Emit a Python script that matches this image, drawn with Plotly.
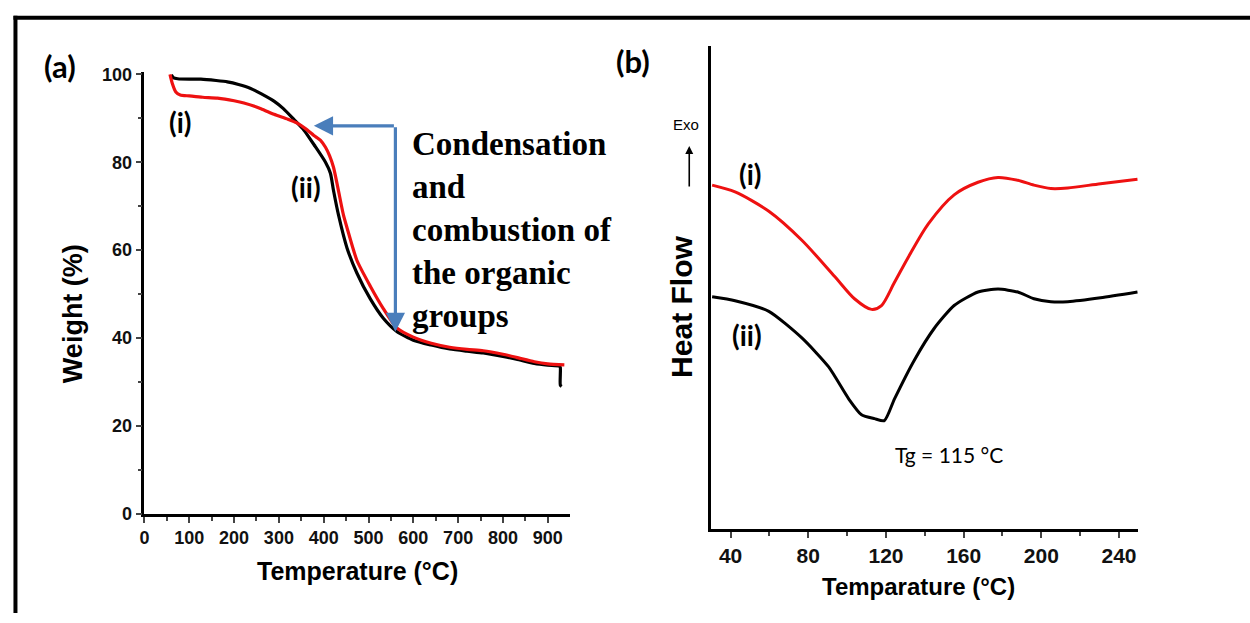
import plotly.graph_objects as go

W, H = 1250, 623

# ---------------- (a) TGA data ----------------
tga_i_temp = [57, 62, 70, 80, 100, 130, 163, 200, 222, 260, 289, 320, 341, 360, 378, 393,
              404, 413, 422, 432, 444, 452, 474, 504, 533, 563, 600, 640, 681, 720, 756,
              800, 830, 870, 900, 937]
tga_i_weight = [100, 98, 96, 95.3, 95.1, 94.8, 94.6, 94.0, 93.5, 92.2, 90.9, 89.8, 88.9,
                87.6, 86.1, 85.0, 83.4, 81.5, 78.8, 74.0, 68.0, 65.1, 57.7, 51.8, 46.7,
                42.3, 40.2, 38.8, 37.9, 37.4, 37.1, 36.3, 35.6, 34.6, 34.1, 33.9]

tga_ii_temp = [60, 65, 74, 100, 126, 160, 185, 210, 237, 260, 289, 310, 333, 356, 381, 404,
               415, 422, 433, 452, 474, 504, 533, 563, 600, 640, 681, 720, 756, 800, 830,
               870, 900, 926, 928, 928, 931]
tga_ii_weight = [99.9, 99.2, 99.0, 98.9, 98.9, 98.6, 98.3, 97.7, 96.8, 95.6, 93.9, 92.2,
                 89.8, 87.3, 83.6, 80.0, 77.5, 73.5, 68.0, 60.5, 54.8, 48.9, 44.5, 41.5,
                 39.5, 38.4, 37.5, 37.0, 36.6, 35.8, 35.2, 34.2, 33.8, 33.6, 33.3, 29.3, 29.0]

# ---------------- (b) DSC data (arbitrary heat-flow units) ----------------
dsc_i_temp = [30.5, 42.3, 59.7, 76.7, 93.6, 103.8, 112.6, 117.7, 124.4, 131.5, 141.8, 155.1,
              167.4, 177.7, 187.9, 196.2, 204.9, 213.6, 230.5, 249.5]
dsc_i = [71.2, 69.8, 65.8, 59.8, 52.3, 47.7, 45.5, 46.3, 51.1, 56.3, 63.2, 69.2, 71.8,
         72.8, 72.2, 71.2, 70.5, 70.6, 71.5, 72.4]

dsc_ii_temp = [30.5, 42.3, 59.7, 76.7, 90.5, 100.8, 107.4, 114.1, 119.2, 124.4, 134.6,
               144.9, 155.1, 167.4, 177.7, 187.9, 196.2, 204.9, 213.6, 230.5, 249.5]
dsc_ii = [48.1, 47.3, 45.1, 39.6, 33.6, 27.0, 23.7, 22.9, 22.5, 27.0, 35.0, 41.6, 46.3,
          49.1, 49.7, 49.1, 47.7, 47.1, 47.1, 47.9, 49.1]

tga_xticks = list(range(0, 1000, 100))
tga_yticks = list(range(0, 101, 20))
dsc_xticks = list(range(40, 241, 40))

RED = "#ee1111"
BLACK = "#000000"
BLUE = "#4a7ebb"


def px(x):
    return x / W


def py(y):
    return 1 - y / H


fig = go.Figure()

fig.add_trace(go.Scatter(x=tga_ii_temp, y=tga_ii_weight, mode="lines",
                         line=dict(color=BLACK, width=3.2, shape="spline", smoothing=0.6),
                         xaxis="x", yaxis="y", showlegend=False))
fig.add_trace(go.Scatter(x=tga_i_temp, y=tga_i_weight, mode="lines",
                         line=dict(color=RED, width=3.2, shape="spline", smoothing=0.6),
                         xaxis="x", yaxis="y", showlegend=False))

fig.add_trace(go.Scatter(x=dsc_i_temp, y=dsc_i, mode="lines",
                         line=dict(color=RED, width=3, shape="spline", smoothing=0.8),
                         xaxis="x2", yaxis="y2", showlegend=False))
fig.add_trace(go.Scatter(x=dsc_ii_temp, y=dsc_ii, mode="lines",
                         line=dict(color=BLACK, width=3, shape="spline", smoothing=0.6),
                         xaxis="x2", yaxis="y2", showlegend=False))

ARIAL = "Liberation Sans, Arial, sans-serif"
tick_font_a = dict(family=ARIAL, size=18, color="#111", weight="bold")
tick_font_b = dict(family="Liberation Sans Narrow, Arial Narrow, Liberation Sans, Arial",
                   size=21, color="#111", weight="bold")

fig.update_layout(
    width=W, height=H,
    margin=dict(l=0, r=0, t=0, b=0),
    paper_bgcolor="white", plot_bgcolor="white",
    xaxis=dict(domain=[px(140), px(567)], range=[0, 949], anchor="y",
               tickvals=tga_xticks, ticks="outside", ticklen=6, tickwidth=2,
               minor=dict(dtick=50, tick0=0, ticks="outside", ticklen=4, tickwidth=2),
               showline=True, linewidth=2.5, linecolor="black", showgrid=False,
               zeroline=False, tickfont=tick_font_a),
    yaxis=dict(domain=[py(521), py(67)], range=[0, 100.5], anchor="x",
               tickvals=tga_yticks, ticks="outside", ticklen=6, tickwidth=2,
               minor=dict(dtick=10, tick0=0, ticks="outside", ticklen=4, tickwidth=2),
               showline=True, linewidth=2.5, linecolor="black", showgrid=False,
               zeroline=False, tickfont=tick_font_a),
    xaxis2=dict(domain=[px(709), px(1138)], range=[30, 250], anchor="y2",
                tickvals=dsc_xticks, ticks="outside", ticklen=6, tickwidth=2,
                minor=dict(dtick=20, tick0=0, ticks="outside", ticklen=4, tickwidth=2),
                showline=True, linewidth=2.5, linecolor="black", showgrid=False,
                zeroline=False, tickfont=tick_font_b),
    yaxis2=dict(domain=[py(537), py(40)], range=[0, 100], anchor="x2",
                showticklabels=False, ticks="", showline=True, linewidth=2.5,
                linecolor="black", showgrid=False, zeroline=False),
)

ann = []


def text(x, y, s, size, family="Lato, sans-serif", weight="normal", angle=0,
         xanchor="center", yanchor="middle", align="center"):
    ann.append(dict(x=px(x), y=py(y), xref="paper", yref="paper", text=s, showarrow=False,
                    font=dict(size=size, family=family, color="black", weight=weight),
                    textangle=angle, xanchor=xanchor, yanchor=yanchor, align=align))


text(55, 61, "(a)", 31, weight="bold")
text(631, 56, "(b)", 31, weight="bold")
text(176, 118, "(i)", 28, weight="bold")
text(302, 185, "(ii)", 28, weight="bold")
text(748, 172, "(i)", 28, weight="bold")
text(745, 337, "(ii)", 28, weight="bold")
text(69, 315, "Weight (%)", 27, family=ARIAL, weight="bold", angle=-90)
text(354, 580, "Temperature (°C)", 25, family=ARIAL, weight="bold")
text(679, 308, "Heat Flow", 30, family=ARIAL, weight="bold", angle=-90)
text(917, 596, "Temparature (°C)", 24, family=ARIAL, weight="bold")
text(684, 121, "Exo", 15, family=ARIAL)
text(948, 460, "Tg = 115 °C", 21, family="Lato, sans-serif")
text(407, 229,
     "Condensation<br>and<br>combustion of<br>the organic<br>groups",
     33, family="Liberation Serif, Times New Roman, serif", weight="bold",
     xanchor="left", align="left")

# blue arrows (TGA step)
ann.append(dict(x=378, y=88.3, ax=560, ay=88.3, xref="x", yref="y", axref="x", ayref="y",
                showarrow=True, arrowhead=2, arrowsize=1.2, arrowwidth=3.2,
                arrowcolor=BLUE, text=""))
ann.append(dict(x=560, y=41.4, ax=560, ay=88.3, xref="x", yref="y", axref="x", ayref="y",
                showarrow=True, arrowhead=2, arrowsize=1.2, arrowwidth=3.2,
                arrowcolor=BLUE, text=""))
# Exo arrow
ann.append(dict(x=px(687), y=py(143), ax=0, ay=42, xref="paper", yref="paper",
                axref="pixel", ayref="pixel", showarrow=True, arrowhead=2, arrowsize=1,
                arrowwidth=1.6, arrowcolor="black", text=""))

fig.update_layout(annotations=ann)

# frame border (left and top)
fig.add_shape(type="line", xref="paper", yref="paper", x0=px(10.5), x1=px(10.5), y0=0,
              y1=py(9), line=dict(color="black", width=4))
fig.add_shape(type="line", xref="paper", yref="paper", x0=px(8.5), x1=1, y0=py(11),
              y1=py(11), line=dict(color="black", width=4))

fig.write_html("out.html")
